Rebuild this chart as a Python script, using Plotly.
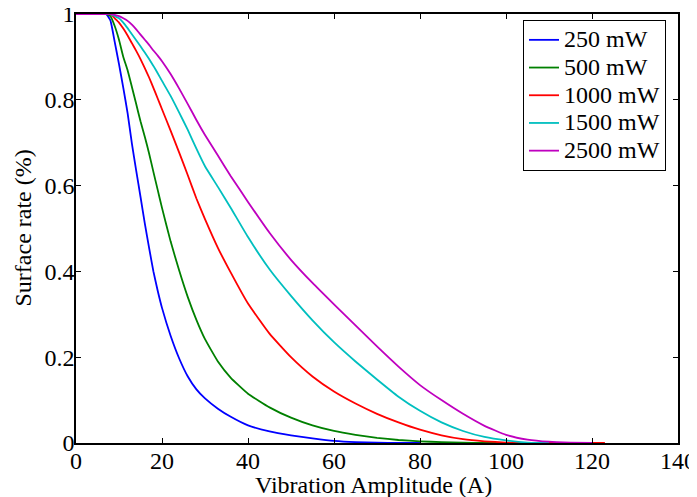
import plotly.graph_objects as go

x_amp = [0, 4, 7, 8, 9, 10, 11, 12, 13, 14, 15, 16, 17, 18, 19, 20, 22, 24, 26, 28, 30, 33, 36, 40,
         45, 50, 55, 60, 65, 70, 75, 80, 85, 90, 95, 100, 105, 110, 115, 120, 123]

y_250 = [1, 1, 1, 0.985, 0.935, 0.883, 0.828, 0.769, 0.698, 0.635, 0.574, 0.512, 0.455, 0.40,
         0.355, 0.315, 0.25, 0.197, 0.155, 0.125, 0.104, 0.080, 0.061, 0.041, 0.027, 0.018,
         0.011, 0.005, 0.002, 0.001, 0, 0]
y_500 = [1, 1, 1, 0.995, 0.972, 0.94, 0.90, 0.869, 0.83, 0.79, 0.75, 0.714, 0.675, 0.632,
         0.59, 0.548, 0.47, 0.402, 0.34, 0.287, 0.242, 0.19, 0.152, 0.115, 0.083, 0.059,
         0.041, 0.028, 0.019, 0.012, 0.007, 0.004, 0.002, 0.001, 0, 0]
y_1000 = [1, 1, 1, 1, 0.99, 0.98, 0.966, 0.95, 0.932, 0.914, 0.895, 0.874, 0.852, 0.828,
          0.803, 0.778, 0.728, 0.677, 0.624, 0.57, 0.522, 0.455, 0.397, 0.325, 0.255, 0.2,
          0.155, 0.12, 0.092, 0.068, 0.048, 0.031, 0.018, 0.009, 0.004, 0.001, 0, 0, 0, 0, 0]
y_1500 = [1, 1, 1, 1, 0.995, 0.99, 0.98, 0.967, 0.953, 0.939, 0.925, 0.91, 0.895, 0.879,
          0.862, 0.844, 0.809, 0.77, 0.73, 0.686, 0.645, 0.597, 0.548, 0.48, 0.405, 0.343,
          0.286, 0.235, 0.19, 0.148, 0.108, 0.075, 0.048, 0.028, 0.014, 0.006, 0.001, 0]
y_2500 = [1, 1, 1, 1, 0.998, 0.995, 0.99, 0.984, 0.975, 0.964, 0.952, 0.94, 0.928, 0.915,
          0.903, 0.89, 0.86, 0.826, 0.79, 0.753, 0.718, 0.67, 0.622, 0.562, 0.49, 0.427,
          0.373, 0.323, 0.274, 0.225, 0.178, 0.135, 0.10, 0.068, 0.04, 0.019, 0.008, 0.003,
          0.001, 0]

series_names = ["250 mW", "500 mW", "1000 mW", "1500 mW", "2500 mW"]
series_values = [y_250, y_500, y_1000, y_1500, y_2500]
series_colors = ["#0000ff", "#008000", "#ff0000", "#00bfbf", "#bf00bf"]

x_ticks = [0, 20, 40, 60, 80, 100, 120, 140]
y_ticks = [0, 0.2, 0.4, 0.6, 0.8, 1]
y_tick_labels = ["0", "0.2", "0.4", "0.6", "0.8", "1"]

x_title = "Vibration Amplitude (A)"
y_title = "Surface rate (%)"

FONT = "Liberation Serif, Times New Roman, serif"
FS = 24
PAGE_PAD = 8  # default body margin of the written html page

fig = go.Figure()
for name, ys, col in zip(series_names, series_values, series_colors):
    fig.add_trace(go.Scatter(
        x=x_amp[:len(ys)], y=ys, mode="lines",
        name=f'<span style="font-size:{FS}px">{name}</span>',
        line=dict(color=col, width=1.8, shape="spline", smoothing=0.4),
        cliponaxis=False,
    ))

axis_common = dict(
    showline=True, linecolor="black", linewidth=1.5, mirror="ticks",
    ticks="inside", ticklen=5, tickcolor="black", tickwidth=1,
    showgrid=False, zeroline=False, automargin=False,
    ticklabeloverflow="allow",
    tickfont=dict(family=FONT, size=FS, color="black"),
)

fig.update_xaxes(range=[0, 140], tickvals=x_ticks, ticklabelstandoff=-5, **axis_common)
fig.update_yaxes(range=[0, 1], tickvals=y_ticks, ticktext=y_tick_labels,
                 ticklabelstandoff=-5, **axis_common)

fig.add_annotation(text=x_title, xref="paper", yref="paper",
                   x=(373.5 - 76) / 602, y=-(485 - 443) / 429,
                   xanchor="center", yanchor="middle", showarrow=False,
                   font=dict(family=FONT, size=FS, color="black"))
fig.add_annotation(text=y_title, xref="paper", yref="paper",
                   x=(22 - 76) / 602, y=0.5, textangle=-90,
                   xanchor="center", yanchor="middle", showarrow=False,
                   font=dict(family=FONT, size=FS, color="black"))

fig.update_layout(
    width=697 - PAGE_PAD, height=497 - PAGE_PAD,
    margin=dict(l=76 - PAGE_PAD, r=19, t=14 - PAGE_PAD, b=54),
    paper_bgcolor="white", plot_bgcolor="white",
    font=dict(family=FONT, size=FS, color="black"),
    showlegend=True,
    legend=dict(
        x=(666 - 76) / 602, y=(443 - 20) / 429, xanchor="right", yanchor="top",
        bordercolor="black", borderwidth=1, bgcolor="white",
        font=dict(family=FONT, size=19, color="black"),
        itemwidth=30, tracegroupgap=0,
    ),
)

fig.write_html("out.html")
